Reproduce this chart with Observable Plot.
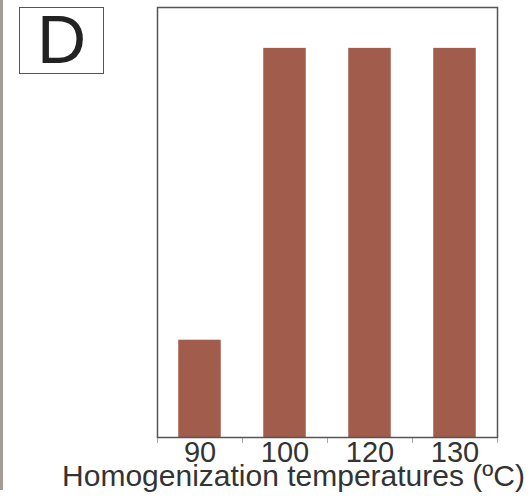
<!DOCTYPE html>
<html>
<head>
<meta charset="utf-8">
<script src="https://cdn.jsdelivr.net/npm/d3@7"></script>
<script src="https://cdn.jsdelivr.net/npm/@observablehq/plot@0.6"></script>
<style>
  html, body { margin: 0; padding: 0; background: #fff; }
  #wrap { position: relative; width: 532px; height: 502px; overflow: hidden; font-family: "Liberation Sans", Arial, sans-serif; }
  #strip { position: absolute; left: 0; top: 0; width: 3px; height: 490px; background: #a39d97; }
  #panel { position: absolute; left: 19px; top: 7px; width: 83px; height: 65px; border: 1.5px solid #555; box-sizing: content-box; }
  #panel span { position: absolute; left: 0; right: 0; top: -3px; text-align: center; font-size: 68px; line-height: 68px; color: #222; }
  #chart { position: absolute; left: 0; top: 0; }
</style>
</head>
<body>
<div id="wrap">
  <div id="strip"></div>
  <div id="panel"><span>D</span></div>
  <div id="chart"></div>
</div>
<script>
const categories = ["90", "100", "120", "130"];
const values = [1, 4, 4, 4];
const xLabel = "Homogenization temperatures (ºC)";
const panelLabel = "D";

const data = categories.map((c, i) => ({ cat: c, idx: i, value: values[i] }));
const boundaries = d3.range(categories.length + 1);

const chart = Plot.plot({
  width: 532,
  height: 502,
  marginLeft: 157,
  marginRight: 35,
  marginTop: 7,
  marginBottom: 65,
  style: { fontFamily: "'Liberation Sans', Arial, sans-serif", background: "transparent", overflow: "visible" },
  x: { type: "linear", domain: [0, categories.length], axis: null },
  y: { domain: [0, 4.42], axis: null },
  marks: [
    Plot.rectY(data, { x1: d => d.idx + 0.25, x2: d => d.idx + 0.75, y1: 0, y2: "value", fill: "#a15c4b" }),
    Plot.ruleX(boundaries, { x: d => d, stroke: "#aaa", strokeWidth: 1, render: (index, scales, values, dims, ctx, next) => {
      const g = next(index, scales, values, dims, ctx);
      d3.select(g).selectAll("line").attr("y1", dims.height - dims.marginBottom).attr("y2", dims.height - dims.marginBottom + 6);
      return g;
    } }),
    Plot.frame({ stroke: "#555", strokeWidth: 1.5 }),
    Plot.text(data, { x: d => d.idx + 0.5, y: 0, text: "cat", lineAnchor: "top", dy: 4, fontSize: 29, fill: "#333" }),
    Plot.text([xLabel], { frameAnchor: "bottom", dx: -34, dy: 27, lineAnchor: "top", fontSize: 30, fill: "#333" })
  ]
});
document.getElementById("chart").appendChild(chart);
</script>
</body>
</html>
